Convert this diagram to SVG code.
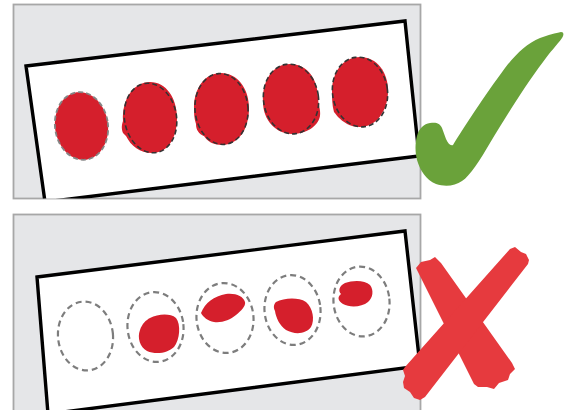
<svg xmlns="http://www.w3.org/2000/svg" width="568" height="410" viewBox="0 0 568 410">
<defs>
<style>
.panel{fill:#e5e6e8;stroke:#a7a7a7;stroke-width:1.8}
.card{fill:#ffffff;stroke:#000000;stroke-width:3.4;stroke-linejoin:miter}
.blob{fill:#d51f2c}
.dk{fill:none;stroke:#333333;stroke-width:1.6;stroke-dasharray:5 3}
.gy{fill:none;stroke:#858585;stroke-width:1.8;stroke-dasharray:5 3}
.ring{fill:none;stroke:#7d7d7d;stroke-width:2.2;stroke-dasharray:6 4}
.ok{fill:#6aa23a}
.no{fill:#e63a3e}
</style>
<clipPath id="clipTop"><rect x="13.5" y="4.5" width="407" height="194"/></clipPath>
<clipPath id="clipBot"><rect x="13.5" y="214.5" width="407" height="200"/></clipPath>
</defs>
<rect width="568" height="410" fill="#ffffff"/>

<g id="panel-good">
<rect class="panel" x="13.5" y="4.5" width="407" height="194"/>
<g clip-path="url(#clipTop)">
<polygon class="card" points="26,66 405,21 419,156 45,202"/>
</g>
</g>

<g id="blobs-good">
<g id="g1">
<ellipse class="blob" cx="81.5" cy="126" rx="26.5" ry="34" transform="rotate(-8 81.5 126)"/>
<ellipse class="gy" cx="81.5" cy="126" rx="26.5" ry="34" transform="rotate(-8 81.5 126)"/>
</g>
<g id="g2">
<path class="blob" d="M150,82 C166,82 177,98 177,118 C177,138 168,153 152,153 C140,153 131,146 126,136 L123,133 C121,128 122,124 123,121 C122,98 134,82 150,82 Z"/>
<ellipse class="dk" cx="150.5" cy="118" rx="26" ry="35" transform="rotate(-10 150.5 118)"/>
</g>
<g id="g3">
<path class="blob" d="M221,73 C237,73 249,88 249,108 C249,130 238,145 222,145 C213,145 207,141 204,136 C199,134 196,130 196,124 C194,118 194,113 194,108 C194,88 205,73 221,73 Z"/>
<ellipse class="dk" cx="221.5" cy="109" rx="26.5" ry="35.5" transform="rotate(-5 221.5 109)"/>
</g>
<g id="g4">
<path class="blob" d="M290,64 C308,64 318,80 318,98 C318,104 321,110 320,116 C318,127 305,134 292,134 C276,134 263,120 263,102 C262,80 273,64 290,64 Z"/>
<ellipse class="dk" cx="291" cy="99" rx="27.5" ry="35" transform="rotate(-8 291 99)"/>
</g>
<g id="g5">
<path class="blob" d="M360,57 C377,57 388,72 388,91 C388,112 375,127 360,127 C350,127 343,122 338,117 L334,112 C332,105 332,98 332,91 C332,72 343,57 360,57 Z"/>
<ellipse class="dk" cx="360" cy="92" rx="27.5" ry="35" transform="rotate(-8 360 92)"/>
</g>
</g>

<g id="panel-bad">
<rect class="panel" x="13.5" y="214.5" width="407" height="200"/>
<g clip-path="url(#clipBot)">
<polygon class="card" points="37,277 405,231 420,366 48,414"/>
</g>
</g>

<g id="blobs-bad">
<g id="b1">
<ellipse class="ring" cx="85.5" cy="336" rx="27.5" ry="34.5" transform="rotate(-6 85.5 336)"/>
</g>
<g id="b2">
<path class="blob" d="M150,318 C158,314 170,313 176,318 C181,324 180,340 174,347 C168,353 156,355 147,351 C140,347 137,338 140,330 C142,324 146,320 150,318 Z"/>
<ellipse class="ring" cx="155.5" cy="327" rx="28" ry="35" transform="rotate(-6 155.5 327)"/>
</g>
<g id="b3">
<path class="blob" d="M201,313 C205,303 214,296 226,294 C236,293 243,296 245,302 C246,306 241,311 236,315 C230,320 222,323 214,322 C208,321 203,317 201,313 Z"/>
<ellipse class="ring" cx="225" cy="318" rx="28.5" ry="35" transform="rotate(-6 225 318)"/>
</g>
<g id="b4">
<path class="blob" d="M276,302 C284,298 298,297 306,302 C313,308 315,320 311,327 C306,334 295,335 286,330 C280,326 276,318 275,311 C273,307 274,304 276,302 Z"/>
<ellipse class="ring" cx="292.5" cy="310" rx="28" ry="35" transform="rotate(-6 292.5 310)"/>
</g>
<g id="b5">
<path class="blob" d="M345,283 C353,280 365,280 370,285 C374,290 373,298 368,302 C362,307 350,308 343,304 C338,301 337,297 341,294 C338,291 339,286 345,283 Z"/>
<ellipse class="ring" cx="361.5" cy="301.5" rx="28" ry="35" transform="rotate(-6 361.5 301.5)"/>
</g>
</g>

<g id="check">
<path class="ok" d="M417,136 C419,128 424,124 430,123 C436,122 440,123 442,128 L446,139 C448,143 450,146 453,145 C462,130 485,95 505,68 C515,55 527,43 540,38 C548,35 556,33 561,32 C564,32 564,35 562,38 C557,45 550,52 543,62 C525,86 505,118 490,143 C480,160 470,176 462,181 C455,186 445,187 436,184 C426,180 420,170 417,160 C415,152 415,143 417,136 Z"/>
</g>

<g id="cross">
<polygon class="no" points="416,268 421,262 430,260 435,257 441,263 512,363 515,369 510,374 508,380 499,383 494,389 487,387 478,387 474,384"/>
<polygon class="no" points="510,249 515,247 521,252 526,254 529,260 528,264 425,397 420,400 414,398 410,392 404,388 403,382 405,376 403,370 405,367"/>
</g>
</svg>
